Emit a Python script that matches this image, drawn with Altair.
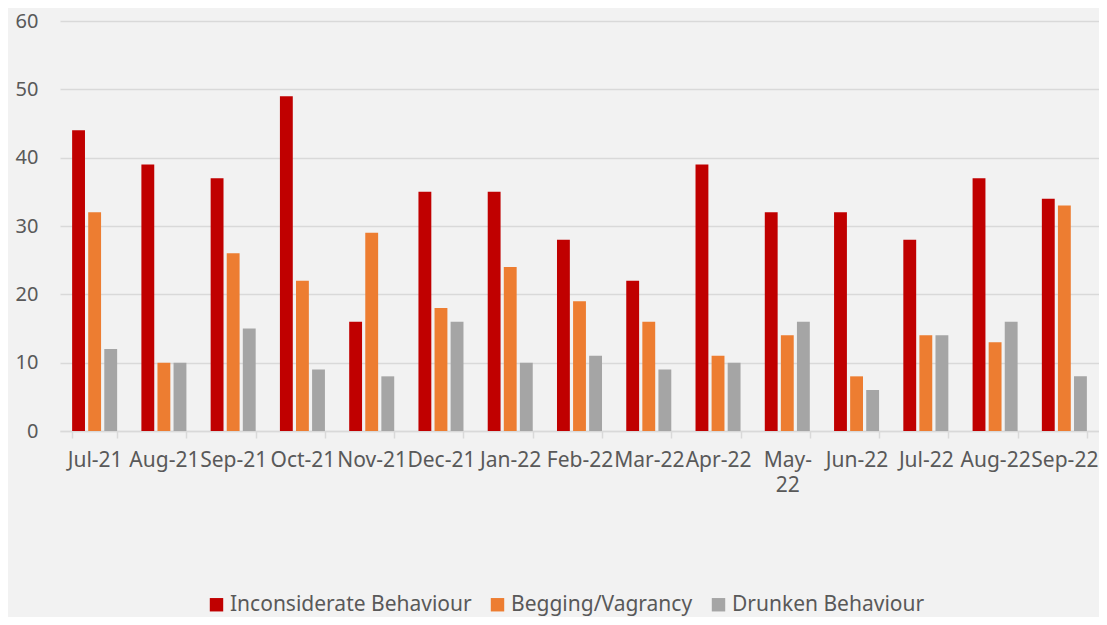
import altair as alt
import pandas as pd

months = ["Jul-21", "Aug-21", "Sep-21", "Oct-21", "Nov-21", "Dec-21", "Jan-22", "Feb-22",
          "Mar-22", "Apr-22", "May-22", "Jun-22", "Jul-22", "Aug-22", "Sep-22"]
series = ["Inconsiderate Behaviour", "Begging/Vagrancy", "Drunken Behaviour"]
inconsiderate = [44, 39, 37, 49, 16, 35, 35, 28, 22, 39, 32, 32, 28, 37, 34]
begging = [32, 10, 26, 22, 29, 18, 24, 19, 16, 11, 14, 8, 14, 13, 33]
drunken = [12, 10, 15, 9, 8, 16, 10, 11, 9, 10, 16, 6, 14, 16, 8]
colors = ["#C00000", "#ED7D31", "#A5A5A5"]

rows = []
for s, vals in zip(series, [inconsiderate, begging, drunken]):
    for m, v in zip(months, vals):
        rows.append({"Month": m, "Series": s, "Value": v})
df = pd.DataFrame(rows)

FONT = "Noto Sans"
TXT = "#595959"

chart = alt.Chart(df).mark_bar().encode(
    x=alt.X("Month:N", sort=months, title=None,
            scale=alt.Scale(paddingInner=0.35, paddingOuter=0.175),
            axis=alt.Axis(labelAngle=0, labelFontSize=21, labelColor=TXT, labelFont=FONT,
                          labelPadding=11, labelOverlap=False, labelLimit=200,
                          labelLineHeight=25,
                          labelExpr="datum.value == 'May-22' ? ['May-', '22'] : datum.value",
                          tickBand="extent", tickColor="#D9D9D9", tickSize=7, tickWidth=1.5,
                          domainColor="#D9D9D9", domainWidth=1.5, grid=False)),
    xOffset=alt.XOffset("Series:N", sort=series, scale=alt.Scale(paddingInner=0.2)),
    y=alt.Y("Value:Q", title=None,
            scale=alt.Scale(domain=[0, 60], nice=False),
            axis=alt.Axis(values=[0, 10, 20, 30, 40, 50, 60], labelFontSize=20, labelColor=TXT,
                          labelFont=FONT, labelPadding=22, domain=False, ticks=False,
                          gridColor="#D9D9D9", gridWidth=1.5)),
    color=alt.Color("Series:N", sort=series, title=None,
                    scale=alt.Scale(domain=series, range=colors),
                    legend=alt.Legend(orient="none", direction="horizontal", legendX=146,
                                      legendY=573, symbolType="square", symbolSize=180,
                                      symbolStrokeWidth=0, labelFontSize=21, labelColor=TXT,
                                      labelFont=FONT, labelOffset=3, columnPadding=15,
                                      labelLimit=400)),
).properties(
    width=1039, height=410,
    autosize=alt.AutoSizeParams(type="none"),
    padding={"left": 52, "top": 13, "right": 0, "bottom": 186},
    background="#F2F2F2",
).configure_view(stroke=None, fill="#F2F2F2")

chart.save("out.html", embed_options={"renderer": "svg", "actions": False})
